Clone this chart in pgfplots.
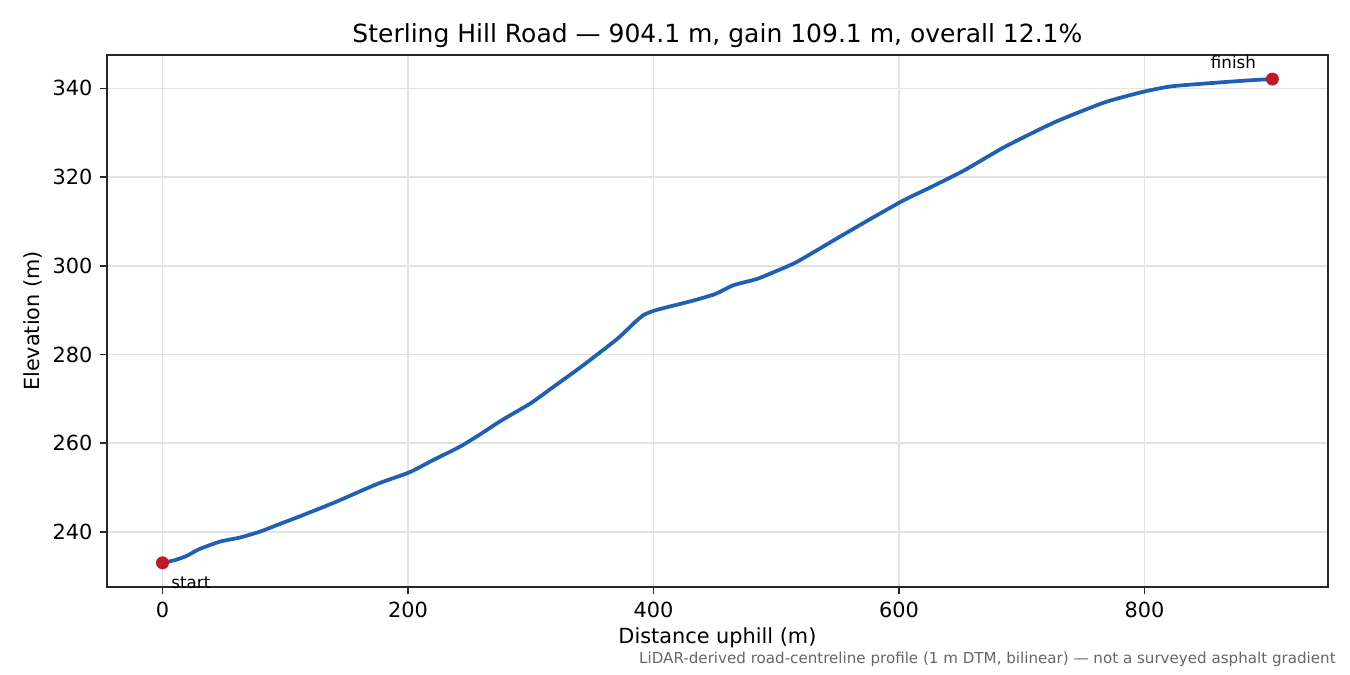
\documentclass[border=0pt]{standalone}
\usepackage{pgfplots}
\pgfplotsset{compat=1.18}
\usepackage{fontspec}
\setmainfont{DejaVu Sans}

\definecolor{lineblue}{HTML}{1F5FB4}
\definecolor{dotred}{HTML}{C0182A}
\definecolor{axgray}{HTML}{262626}

\begin{document}
\begin{tikzpicture}
% 1350x675 px page, 1 px = 0.48 pt
\useasboundingbox (0,0) rectangle (648pt,324pt);
\begin{axis}[
  at={(51.36pt,42.24pt)}, anchor=south west,
  scale only axis, width=586pt, height=255.4pt,
  xmin=-45.2, xmax=949.3, ymin=227.55, ymax=347.55,
  xtick={0,200,400,600,800}, ytick={240,260,280,300,320,340},
  tick align=outside, tick pos=left,
  major tick length=3.5pt,
  axis line style={axgray, line width=0.8pt},
  every tick/.style={axgray, line width=0.8pt},
  grid=major, grid style={black!11, line width=0.8pt},
  /pgf/number format/assume math mode=true,
  ticklabel style={font=\fontsize{10}{12}\selectfont},
  xlabel={Distance uphill (m)}, ylabel={Elevation (m)},
  label style={font=\fontsize{10}{12}\selectfont},
  xlabel style={yshift=2pt},
  ylabel style={yshift=-2pt},
  title={Sterling Hill Road — 904.1 m, gain 109.1 m, overall 12.1\%},
  title style={font=\fontsize{12}{14}\selectfont, yshift=-6pt},
  clip=false,
]
\addplot[lineblue, line width=1.8pt, line join=round, smooth, tension=0.35] coordinates {
(0,233.0) (10,233.6) (20,234.6) (30,236.1) (47,237.8) (63,238.7) (79,240.0)
(95,241.7) (112,243.5) (140,246.6) (175,250.8) (201,253.4) (220,256.1)
(243,259.3) (260,262.2) (276,265.1) (300,269.0) (317,272.4) (340,277.0)
(370,283.4) (385,287.3) (392,288.9) (402,290.0) (429,291.9) (450,293.6)
(465,295.6) (484,297.0) (500,298.8) (517,300.9) (549,306.1) (577,310.6)
(604,314.8) (625,317.6) (653,321.5) (686,326.8) (727,332.4) (768,336.9)
(800,339.3) (823,340.5) (864,341.4) (890,341.9) (904.1,342.1)
};
\addplot[only marks, mark=*, mark size=2.9pt, dotred, mark options={draw=dotred, fill=dotred}]
  coordinates {(0,233.0) (904.1,342.1)};
\node[anchor=base west, font=\fontsize{8}{10}\selectfont, inner sep=0pt]
  at (axis cs:7,227.1) {start};
\node[anchor=base east, font=\fontsize{8}{10}\selectfont, inner sep=0pt]
  at (axis cs:891,344.5) {finish};
\end{axis}
\node[anchor=base east, font=\fontsize{7.25}{8}\selectfont, text=black!60, inner sep=0pt]
  at (641.3pt,5.3pt) {LiDAR-derived road-centreline profile (1 m DTM, bilinear) — not a surveyed asphalt gradient};
\end{tikzpicture}
\end{document}
